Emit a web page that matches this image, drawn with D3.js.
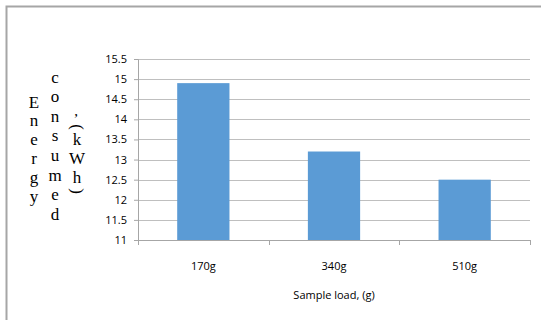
<!DOCTYPE html>
<html>
<head>
<meta charset="utf-8">
<script src="https://cdn.jsdelivr.net/npm/d3@7"></script>
<style>
  body { margin: 0; background: #fff; }
  svg { display: block; }
</style>
</head>
<body>
<div id="chart"></div>
<script>
// chart data
var loads = ["170g", "340g", "510g"];
var energy = [14.9, 13.2, 12.5];
var yTicks = [11, 11.5, 12, 12.5, 13, 13.5, 14, 14.5, 15, 15.5];

var svgWidth = 541, svgHeight = 320;
var margin = { top: 59, right: 11, bottom: 80, left: 138 };
var w = svgWidth - margin.left - margin.right;
var h = svgHeight - margin.top - margin.bottom;

var svg = d3.select("#chart").append("svg")
  .attr("width", svgWidth)
  .attr("height", svgHeight);

// outer frame (only top and left edges show)
svg.append("path")
  .attr("d", "M6.5,320 V6.5 H541")
  .attr("fill", "none")
  .attr("stroke", "#a6a6a6")
  .attr("stroke-width", 2);

var g = svg.append("g")
  .attr("transform", `translate(${margin.left}, ${margin.top})`);

var x = d3.scaleBand()
  .domain(loads)
  .range([0, w])
  .paddingInner(0.6)
  .paddingOuter(0.3);

var y = d3.scaleLinear()
  .domain([11, 15.5])
  .range([h, 0]);

// gridlines
g.append("g")
  .selectAll("line")
  .data(yTicks.slice(1))
  .enter()
  .append("line")
  .attr("x1", 0)
  .attr("x2", w)
  .attr("y1", d => Math.round(y(d)) + 0.5)
  .attr("y2", d => Math.round(y(d)) + 0.5)
  .attr("stroke", "#bfbfbf");

// bars
g.selectAll("rect")
  .data(energy)
  .enter()
  .append("rect")
  .attr("x", (d, i) => x(loads[i]))
  .attr("width", x.bandwidth())
  .attr("y", d => y(d))
  .attr("height", d => h - y(d))
  .attr("fill", "#5b9bd5");

// left axis
var leftAxis = d3.axisLeft(y).tickValues(yTicks).tickFormat(d => String(d))
  .tickSize(4).tickPadding(7);
var ya = g.append("g").call(leftAxis);
ya.selectAll("path, line").attr("stroke", "#a6a6a6");
ya.selectAll("text")
  .style("font-family", "'Open Sans', sans-serif")
  .style("font-size", "11px")
  .attr("fill", "#000");

// bottom axis: ticks on category boundaries
var edges = [0, 1, 2, 3].map(i => i * w / 3);
var xa = g.append("g").attr("transform", `translate(0, ${h})`);
xa.append("line")
  .attr("x1", 0).attr("x2", w)
  .attr("y1", 0.5).attr("y2", 0.5)
  .attr("stroke", "#a6a6a6");
xa.selectAll(".tk")
  .data(edges)
  .enter()
  .append("line")
  .attr("x1", d => Math.round(d) + 0.5)
  .attr("x2", d => Math.round(d) + 0.5)
  .attr("y1", 0).attr("y2", 5)
  .attr("stroke", "#a6a6a6");
xa.selectAll("text")
  .data(loads)
  .enter()
  .append("text")
  .attr("x", d => x(d) + x.bandwidth() / 2)
  .attr("y", 30)
  .attr("text-anchor", "middle")
  .style("font-family", "'Open Sans', sans-serif")
  .style("font-size", "11px")
  .text(d => d);

// x axis title
svg.append("text")
  .attr("x", margin.left + w / 2)
  .attr("y", 299)
  .attr("text-anchor", "middle")
  .style("font-family", "'Open Sans', sans-serif")
  .style("font-size", "11px")
  .text("Sample load, (g)");

// y axis title, stacked letters in three columns
var serif = "'Liberation Serif', 'DejaVu Serif', serif";
function column(chars, cx, y0, step) {
  chars.split("").forEach(function(c, i) {
    svg.append("text")
      .attr("x", cx)
      .attr("y", y0 + i * step)
      .attr("text-anchor", "middle")
      .attr("dominant-baseline", "central")
      .style("font-family", serif)
      .style("font-size", "17px")
      .text(c);
  });
}
column("Energy", 34, 102, 18.8);
column("consumed", 55, 77, 19.6);

svg.append("text")
  .attr("x", 76).attr("y", 116)
  .attr("text-anchor", "middle")
  .style("font-family", serif)
  .style("font-size", "15px")
  .text(",");
svg.append("text")
  .attr("transform", "translate(77,127) rotate(90)")
  .attr("text-anchor", "middle")
  .attr("dominant-baseline", "central")
  .style("font-family", serif)
  .style("font-size", "17px")
  .text("(");
column("kWh", 77, 139, 19);
svg.append("text")
  .attr("transform", "translate(77,191) rotate(90)")
  .attr("text-anchor", "middle")
  .attr("dominant-baseline", "central")
  .style("font-family", serif)
  .style("font-size", "17px")
  .text(")");
</script>
</body>
</html>
